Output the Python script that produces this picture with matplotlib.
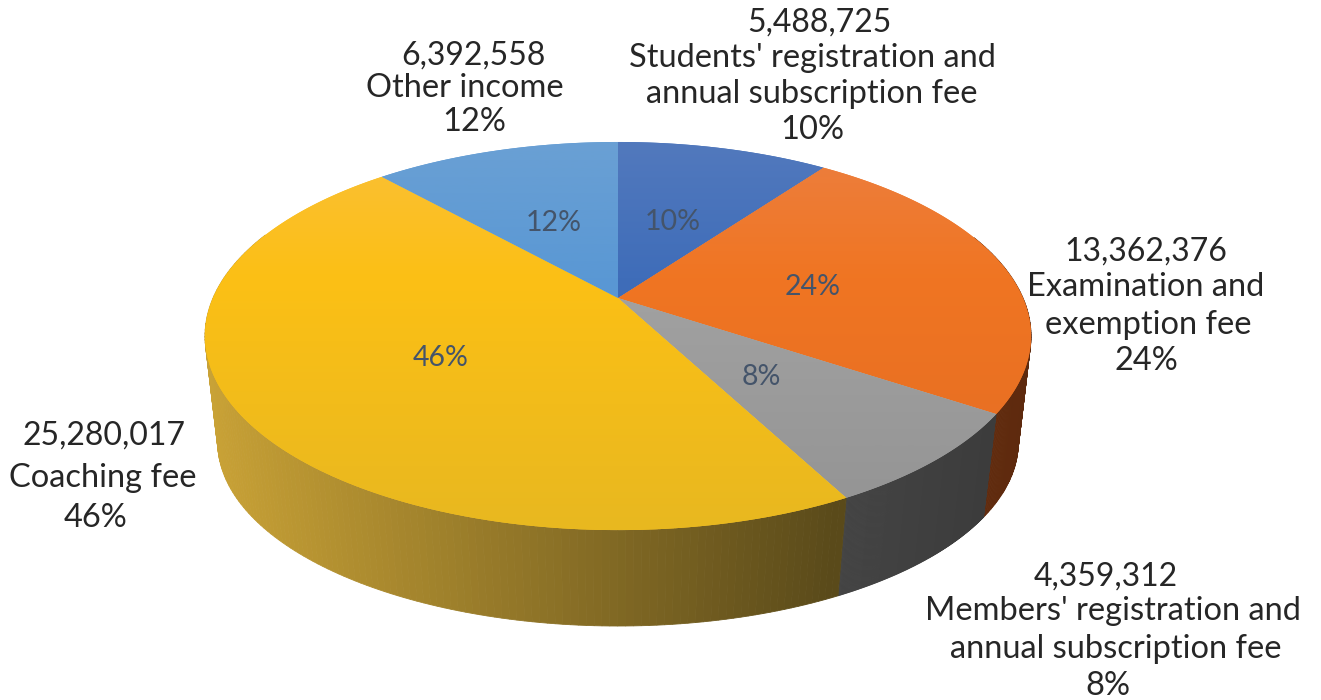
import numpy as np
import matplotlib
matplotlib.use('Agg')
import matplotlib.pyplot as plt
from matplotlib.patches import Polygon

names = ["Students' registration and\nannual subscription fee",
         "Examination and\nexemption fee",
         "Members' registration and\nannual subscription fee",
         "Coaching fee",
         "Other income"]
values = [5488725, 13362376, 4359312, 25280017, 6392558]

# top face colours, three stops of the vertical gradient
top_upper = ['#5279bd', '#ec7f40', '#a9a9a9', '#fabf38', '#6aa0d4']
top_mid = ['#3f6db9', '#f07522', '#a2a2a2', '#fcc015', '#5a98d4']
top_lower = ['#2f64b4', '#e36c24', '#939393', '#e8b820', '#4c92d6']

# side wall colours, left and right end of the horizontal gradient
side_left = ['#2a4a7a', '#6e3010', '#444444', '#c9a236', '#2a4a7a']
side_right = ['#2a4a7a', '#5e2a0e', '#3a3a3a', '#5a4a1a', '#2a4a7a']

# outer label layout in pixels: line centres and baselines
outer_x = [[819, 812, 812, 812], [1146, 1146, 1148, 1146], [1106, 1113, 1116, 1108], [104, 103, 96], [473, 465, 474]]
outer_y = [[32, 67, 103, 139], [261, 296, 334, 370], [586, 620, 658, 695], [445, 487, 527], [65, 97, 131]]
inner_pos = [(673, 222), (813, 287), (761, 377), (441, 358), (554, 223)]

total = sum(values)
fractions = np.array(values) / total
edges = np.concatenate([[0], np.cumsum(fractions)]) * 2 * np.pi


def project(theta, r=1.0, level='top'):
    # perspective view of a disc, theta runs clockwise from twelve o'clock
    x = r * np.sin(theta)
    y = r * np.cos(theta)
    if level == 'top':
        a, b, k, cy = 405.0, 186.6, 0.196, 298.0
    else:
        a, b, k, cy = 393.0, 177.0, 0.19, 407.5
    d = 1 + k * y
    return 618 + a * x / d, cy - b * y / d


def lerp_colour(c0, c1, t):
    c0 = np.array(matplotlib.colors.to_rgb(c0))
    c1 = np.array(matplotlib.colors.to_rgb(c1))
    return c0 + (c1 - c0) * t


fig = plt.figure(figsize=(13.21, 7), dpi=100)
ax = fig.add_axes([0, 0, 1, 1])

# side walls first, the top face covers whatever sticks out behind
for i in range(len(values)):
    th = np.linspace(edges[i], edges[i + 1], 180)
    tx, ty = project(th, level='top')
    bx, by = project(th, level='bottom')
    for j in range(len(th) - 1):
        if np.cos(th[j]) > 0.35:
            continue
        t = np.clip((tx[j] - 203) / (840 - 203), 0, 1)
        if i < 3:
            t = np.clip((tx[j] - 840) / (1030 - 840), 0, 1)
        col = lerp_colour(side_left[i], side_right[i], t)
        quad = [(tx[j], ty[j]), (tx[j + 1], ty[j + 1]), (bx[j + 1], by[j + 1]), (bx[j], by[j])]
        ax.add_patch(Polygon(quad, closed=True, facecolor=col, edgecolor=col, linewidth=0.6))

# top face, one clipped gradient per slice
ramp = np.linspace(0, 1, 256)[:, None]
for i in range(len(values)):
    th = np.linspace(edges[i], edges[i + 1], 240)
    rx, ry = project(th)
    ax_, ay_ = project(0.0, r=0.0)
    pts = np.column_stack([np.r_[ax_, rx], np.r_[ay_, ry]])
    poly = Polygon(pts, closed=True, facecolor=top_mid[i], edgecolor='none')
    ax.add_patch(poly)

    # gradient runs over the whole disc so the slices share one light
    ymin, ymax = 142, 530
    c = [np.array(matplotlib.colors.to_rgb(s[i])) for s in (top_upper, top_mid, top_lower)]
    img = np.where(ramp[:, :, None] < 0.35,
                   c[0] + (c[1] - c[0]) * (ramp[:, :, None] / 0.35),
                   c[1] + (c[2] - c[1]) * ((ramp[:, :, None] - 0.35) / 0.65))
    im = ax.imshow(img, extent=(203, 1031, ymax, ymin), aspect='auto',
                   interpolation='bilinear', zorder=2)
    im.set_clip_path(poly)

ax.set_xlim(0, 1321)
ax.set_ylim(700, 0)
ax.axis('off')

font = 'Lato'
for i, v in enumerate(values):
    pct = round(fractions[i] * 100)
    lines = [f"{v:,}"] + names[i].split('\n') + [f"{pct}%"]
    for n, line in enumerate(lines):
        # the digits run a little wide in this face
        size = 23 if n == 0 else 23.5
        ax.text(outer_x[i][n], outer_y[i][n], line, ha='center', va='baseline',
                fontsize=size, family=font, color='#262626', zorder=3)
    ax.text(inner_pos[i][0], inner_pos[i][1], f"{pct}%", ha='center', va='center',
            fontsize=20.5, family=font, color='#44546a', zorder=3)

fig.savefig('out.png', dpi=100)
